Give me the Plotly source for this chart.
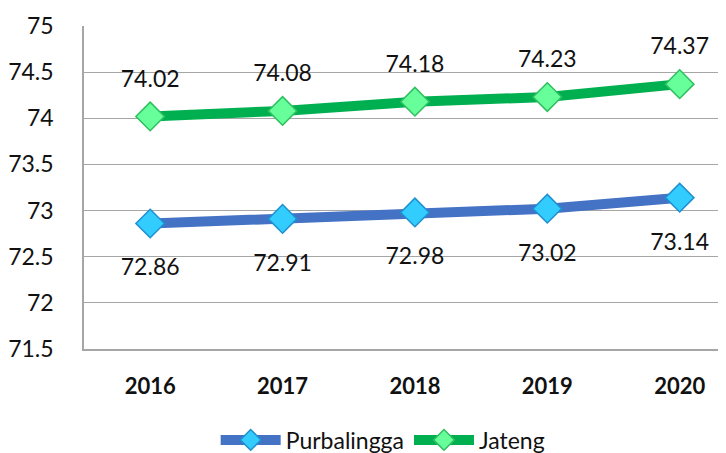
import plotly.graph_objects as go

years = ["2016", "2017", "2018", "2019", "2020"]
purbalingga = [72.86, 72.91, 72.98, 73.02, 73.14]
jateng = [74.02, 74.08, 74.18, 74.23, 74.37]
y_ticks = [71.5, 72, 72.5, 73, 73.5, 74, 74.5, 75]

font_family = "Lato, 'Open Sans', sans-serif"
label_font = dict(size=23, color="#111111", family=font_family)

fig = go.Figure()
fig.add_trace(go.Scatter(
    x=years, y=purbalingga, name="Purbalingga", mode="lines+markers",
    line=dict(color="#4472C4", width=10),
    marker=dict(symbol="diamond", size=22, color="#33CCFF", line=dict(color="#1E90D0", width=1.5)),
))
fig.add_trace(go.Scatter(
    x=years, y=jateng, name="Jateng", mode="lines+markers",
    line=dict(color="#00B050", width=10),
    marker=dict(symbol="diamond", size=22, color="#66FF99", line=dict(color="#2EBF60", width=1.5)),
))

# data labels: invisible wide markers push the text further from the points
fig.add_trace(go.Scatter(
    x=years, y=purbalingga, mode="markers+text", showlegend=False, hoverinfo="skip",
    marker=dict(size=54, color="rgba(0,0,0,0)"),
    text=[f"{v:.2f}" for v in purbalingga], textposition="bottom center", textfont=label_font,
))
fig.add_trace(go.Scatter(
    x=years, y=jateng, mode="markers+text", showlegend=False, hoverinfo="skip",
    marker=dict(size=37, color="rgba(0,0,0,0)"),
    text=[f"{v:.2f}" for v in jateng], textposition="top center", textfont=label_font,
))

# page has an 8px body margin, so the figure is sized/offset to compensate
fig.update_layout(
    width=718, height=445,
    margin=dict(l=76, r=0, t=18, b=104, autoexpand=False),
    paper_bgcolor="white", plot_bgcolor="white",
    font=dict(family=font_family, color="#111111"),
    showlegend=True,
    legend=dict(orientation="h", x=0.466, xanchor="center", y=-0.215, yanchor="top",
                font=dict(size=23, color="#111111"), itemwidth=60),
    xaxis=dict(type="category", range=[-0.5, 4.35], showgrid=False, automargin=False,
               showline=True, linecolor="#A6A6A6", linewidth=1.5,
               tickfont=dict(size=22, color="#111111", family=font_family, weight="bold"),
               ticks="", ticklabelstandoff=17),
    yaxis=dict(range=[71.5, 75], tickvals=y_ticks, ticktext=[f"{v:g}" for v in y_ticks],
               showgrid=True, gridcolor="#A6A6A6", gridwidth=1.2, automargin=False,
               showline=True, linecolor="#A6A6A6", linewidth=1.5,
               tickfont=dict(size=23, color="#111111", family=font_family),
               ticks="", ticklabelstandoff=24, zeroline=False),
)

fig.write_html("out.html")
